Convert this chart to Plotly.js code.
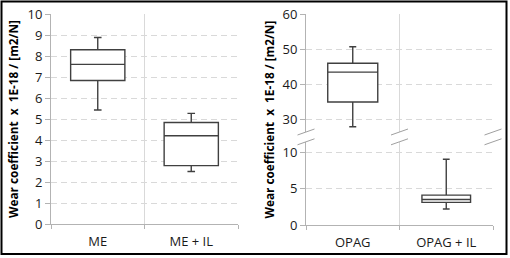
<!DOCTYPE html>
<html>
<head>
<meta charset="utf-8">
<script src="https://cdn.plot.ly/plotly-3.0.1.min.js"></script>
<style>html,body{margin:0;padding:0;background:#fff;}#chart{width:510px;height:258px;}</style>
</head>
<body>
<div id="chart"></div>
<script>
// ---- Data ----
var leftCategories = ['ME', 'ME + IL'];
var leftQ1 = [6.83, 2.78];
var leftMedian = [7.6, 4.2];
var leftQ3 = [8.3, 4.83];
var leftLower = [5.43, 2.5];
var leftUpper = [8.88, 5.27];

var rightCategories = ['OPAG', 'OPAG + IL'];
var rightQ1 = [35, 3.1];
var rightMedian = [43.5, 3.5];
var rightQ3 = [46, 4.1];
var rightLower = [28, 2.2];
var rightUpper = [50.7, 9.0];

var leftYTicks = [0, 1, 2, 3, 4, 5, 6, 7, 8, 9, 10];
var rightLowTicks = [0, 5, 10];
var rightHighTicks = [30, 40, 50, 60];

var yTitle = '<b>Wear coefficient\u00a0\u00a0x\u00a0\u00a01E-18 / [m2/N]</b>';

// ---- Styling ----
var W = 510, H = 258;
var boxLine = {color: '#404040', width: 1.4};
var gridCol = '#d9d9d9';
var axisCol = '#b3b3b3';
var tickFont = {family: 'Open Sans, DejaVu Sans, sans-serif', size: 13, color: '#1a1a1a'};
var titleFont = {family: 'Open Sans, DejaVu Sans, sans-serif', size: 11.8, color: '#000'};

function px(x) { return x / W; }
function py(y) { return 1 - y / H; }

var xLeftDom = [px(51), px(238)];
var yLeftDom = [py(224), py(14)];
var xRightDom = [px(306), px(493)];
var yLowDom = [py(225), py(141.8)];
var yHighDom = [py(132), py(14)];

function boxTrace(cat, q1, med, q3, lo, hi, xa, ya, w) {
  return {
    type: 'box', x: [cat], q1: [q1], median: [med], q3: [q3],
    lowerfence: [lo], upperfence: [hi],
    xaxis: xa, yaxis: ya, width: w, whiskerwidth: 0.14,
    fillcolor: '#ffffff', line: boxLine, boxpoints: false,
    hoverinfo: 'skip', showlegend: false
  };
}

var traces = [];
for (var i = 0; i < leftCategories.length; i++) {
  traces.push(boxTrace(leftCategories[i], leftQ1[i], leftMedian[i], leftQ3[i], leftLower[i], leftUpper[i], 'x', 'y', 0.58));
}
traces.push(boxTrace(rightCategories[0], rightQ1[0], rightMedian[0], rightQ3[0], rightLower[0], rightUpper[0], 'x2', 'y3', 0.535));
traces.push(boxTrace(rightCategories[1], rightQ1[1], rightMedian[1], rightQ3[1], rightLower[1], rightUpper[1], 'x2', 'y2', 0.52));

function xAxis(dom, anchor, cats, labels) {
  return {
    domain: dom, anchor: anchor, type: 'category',
    categoryorder: 'array', categoryarray: cats,
    range: [-0.5, cats.length - 0.5], fixedrange: true,
    tickson: 'boundaries', ticks: labels ? 'outside' : '', ticklen: 4, tickcolor: axisCol,
    showgrid: true, gridcolor: gridCol, gridwidth: 1,
    showline: labels, linecolor: axisCol, linewidth: 1,
    showticklabels: labels, tickfont: tickFont, zeroline: false,
    ticklabelstandoff: 5
  };
}
function yAxis(dom, anchor, range, ticks, title) {
  var a = {
    domain: dom, anchor: anchor, range: range, fixedrange: true,
    tickvals: ticks, ticks: 'outside', ticklen: 5, tickcolor: axisCol,
    showgrid: true, gridcolor: gridCol, gridwidth: 1, griddash: '6px,4px',
    showline: true, linecolor: axisCol, linewidth: 1,
    tickfont: tickFont, zeroline: false
  };
  if (title) a.title = {text: yTitle, font: titleFont, standoff: 6};
  return a;
}

// break marks around the axis break in the right panel
var shapes = [];
var breakXs = [xRightDom[0], (xRightDom[0] + xRightDom[1]) / 2, xRightDom[1]];
var breakYs = [yHighDom[0], yLowDom[1]];
breakXs.forEach(function (bx) {
  breakYs.forEach(function (by) {
    shapes.push({type: 'line', xref: 'paper', yref: 'paper',
      x0: bx - px(8.5), x1: bx + px(8.5), y0: by - 3 / H, y1: by + 3 / H,
      line: {color: '#a0a0a0', width: 1}});
  });
});
// outer frame
shapes.push({type: 'rect', xref: 'paper', yref: 'paper',
  x0: px(1.5), x1: px(506.5), y0: py(254), y1: py(1.5),
  line: {color: '#000', width: 2}, fillcolor: 'rgba(0,0,0,0)'});

var layout = {
  width: W, height: H,
  margin: {l: 0, r: 0, t: 0, b: 0, pad: 0},
  paper_bgcolor: '#fff', plot_bgcolor: '#fff',
  showlegend: false,
  xaxis: xAxis(xLeftDom, 'y', leftCategories, true),
  yaxis: yAxis(yLeftDom, 'x', [0, 10], leftYTicks, true),
  xaxis2: xAxis(xRightDom, 'y2', rightCategories, true),
  yaxis2: yAxis(yLowDom, 'x2', [0, 11.4], rightLowTicks, false),
  xaxis3: Object.assign(xAxis(xRightDom, 'y3', rightCategories, false), {overlaying: 'x2'}),
  yaxis3: yAxis(yHighDom, 'x2', [26.5, 60], rightHighTicks, false),
  shapes: shapes,
  annotations: [{
    text: yTitle, xref: 'paper', yref: 'paper', x: px(269), y: (py(225) + py(14)) / 2,
    textangle: -90, showarrow: false, font: titleFont, xanchor: 'center', yanchor: 'middle'
  }]
};

Plotly.newPlot('chart', traces, layout, {staticPlot: true, displayModeBar: false});
</script>
</body>
</html>
